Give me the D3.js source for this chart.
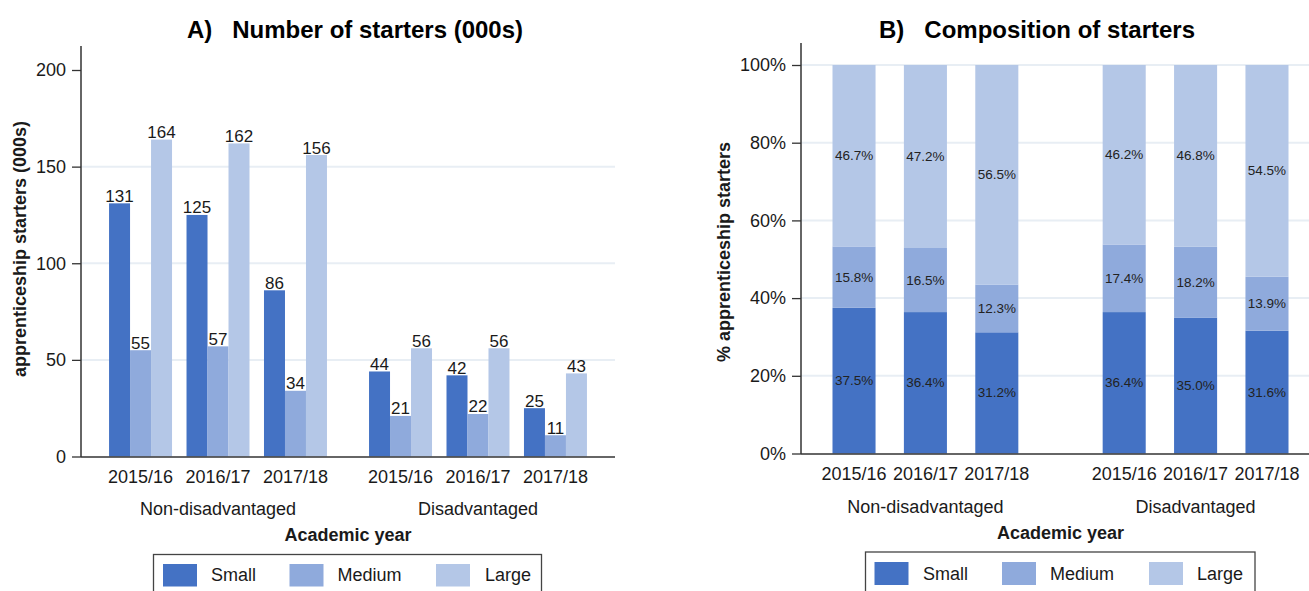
<!DOCTYPE html>
<html>
<head>
<meta charset="utf-8">
<script src="https://cdn.jsdelivr.net/npm/d3@7"></script>
<style>
  html, body { margin: 0; padding: 0; background: #fff; }
  svg { display: block; font-family: "Liberation Sans", Arial, sans-serif; }
  text { white-space: pre; }
</style>
</head>
<body>
<svg id="chart" width="1309" height="591"></svg>
<script>
// ---- data ----
const groups = ["Non-disadvantaged", "Disadvantaged"];
const years = ["2015/16", "2016/17", "2017/18"];
const sizes = ["Small", "Medium", "Large"];
const colors = ["#4472c4", "#8faadc", "#b4c7e7"];

// Panel A: number of starters (000s), by group then year
const countSmall  = [[131, 125, 86], [44, 42, 25]];
const countMedium = [[55, 57, 34],   [21, 22, 11]];
const countLarge  = [[164, 162, 156],[56, 56, 43]];
const countTicks = [0, 50, 100, 150, 200];
const countGrid = [50, 100, 150];

// Panel B: composition (%)
const pctSmall  = [[37.5, 36.4, 31.2], [36.4, 35.0, 31.6]];
const pctMedium = [[15.8, 16.5, 12.3], [17.4, 18.2, 13.9]];
const pctLarge  = [[46.7, 47.2, 56.5], [46.2, 46.8, 54.5]];
const pctTicks = [0, 20, 40, 60, 80, 100];

const svg = d3.select("#chart");
const ink = "#1a1a1a";
const gridColor = "#e8eef4";
const axisColor = "#333";
const FS = 18;

function buildRows(a, b, c) {
  const rows = [];
  groups.forEach((g, gi) => years.forEach((y, yi) => {
    rows.push({ group: g, year: y, Small: a[gi][yi], Medium: b[gi][yi], Large: c[gi][yi] });
  }));
  return rows;
}

function xAxisLabels(g, x0, x1, yearY, groupY, titleY, titleX) {
  groups.forEach(gr => {
    years.forEach(yr => {
      g.append("text").attr("x", x0(gr) + x1(yr) + x1.bandwidth() / 2).attr("y", yearY)
        .attr("text-anchor", "middle").attr("dominant-baseline", "central")
        .attr("font-size", FS).attr("fill", ink).text(yr);
    });
    g.append("text").attr("x", x0(gr) + x0.bandwidth() / 2).attr("y", groupY)
      .attr("text-anchor", "middle").attr("dominant-baseline", "central")
      .attr("font-size", FS).attr("fill", ink).text(gr);
  });
  g.append("text").attr("x", titleX).attr("y", titleY)
    .attr("text-anchor", "middle").attr("dominant-baseline", "central")
    .attr("font-size", FS).attr("font-weight", "bold").attr("fill", ink).text("Academic year");
}

function legend(g, bx, by, bw, swX, txX, swY, swH) {
  g.append("rect").attr("x", bx).attr("y", by).attr("width", bw).attr("height", 60)
    .attr("fill", "none").attr("stroke", "#444").attr("stroke-width", 1.3);
  sizes.forEach((s, i) => {
    g.append("rect").attr("x", swX[i]).attr("y", swY).attr("width", 34).attr("height", swH)
      .attr("fill", colors[i]);
    g.append("text").attr("x", txX[i]).attr("y", swY + swH / 2)
      .attr("dominant-baseline", "central").attr("font-size", FS).attr("fill", ink).text(s);
  });
}

// ================= Panel A =================
{
  const rows = buildRows(countSmall, countMedium, countLarge);
  const left = 81, right = 615, bottom = 456.5, top = 70;
  const g = svg.append("g");

  const x0 = d3.scaleBand().domain(groups).range([left, right]).paddingInner(0.104).paddingOuter(0.079);
  const x1 = d3.scaleBand().domain(years).range([0, x0.bandwidth()]).paddingInner(0.187).paddingOuter(0.097);
  const x2 = d3.scaleBand().domain(sizes).range([0, x1.bandwidth()]).padding(0);
  const y = d3.scaleLinear().domain([0, 200]).range([bottom, top]);

  g.selectAll("line.grid").data(countGrid).join("line")
    .attr("x1", left).attr("x2", right).attr("y1", d => y(d)).attr("y2", d => y(d))
    .attr("stroke", gridColor).attr("stroke-width", 2);

  const bars = [];
  rows.forEach(r => sizes.forEach((s, si) => bars.push({ r, s, si, v: r[s] })));
  g.selectAll("rect.bar").data(bars).join("rect")
    .attr("x", d => x0(d.r.group) + x1(d.r.year) + x2(d.s))
    .attr("width", x2.bandwidth())
    .attr("y", d => y(d.v)).attr("height", d => y(0) - y(d.v))
    .attr("fill", d => colors[d.si]);

  g.selectAll("text.val").data(bars).join("text")
    .attr("x", d => x0(d.r.group) + x1(d.r.year) + x2(d.s) + x2.bandwidth() / 2)
    .attr("y", d => y(d.v) - 1.5)
    .attr("text-anchor", "middle").attr("font-size", 17).attr("fill", ink)
    .text(d => d.v);

  const ya = g.append("g").attr("transform", `translate(${left},0)`)
    .call(d3.axisLeft(y).tickValues(countTicks).tickSize(9).tickPadding(6).tickSizeOuter(0));
  ya.select(".domain").remove();
  ya.selectAll(".tick line").attr("stroke", axisColor).attr("stroke-width", 1.3);
  ya.selectAll(".tick text").attr("font-size", FS).attr("fill", ink).attr("font-family", null);
  g.append("line").attr("x1", left).attr("x2", left).attr("y1", 46).attr("y2", bottom + 0.5)
    .attr("stroke", axisColor).attr("stroke-width", 1.5);
  g.append("line").attr("x1", left).attr("x2", right).attr("y1", bottom + 0.5).attr("y2", bottom + 0.5)
    .attr("stroke", axisColor).attr("stroke-width", 1.5);

  g.append("text").attr("transform", "translate(20,249) rotate(-90)")
    .attr("text-anchor", "middle").attr("dominant-baseline", "central")
    .attr("font-size", FS).attr("font-weight", "bold").attr("fill", ink)
    .text("apprenticeship starters (000s)");

  g.append("text").attr("x", 355).attr("y", 29).attr("text-anchor", "middle")
    .attr("dominant-baseline", "central").attr("font-size", 24).attr("font-weight", "bold")
    .attr("fill", "#000").text("A)   Number of starters (000s)");

  xAxisLabels(g, x0, x1, 477, 509, 535, 348);
  legend(g, 153.5, 554.5, 388, [163, 289.5, 436], [211, 337.5, 485], 564, 22.5);
}

// ================= Panel B =================
{
  const rows = buildRows(pctSmall, pctMedium, pctLarge);
  const left = 801, right = 1320, bottom = 453.5, top = 65;
  const g = svg.append("g");

  const x0 = d3.scaleBand().domain(groups).range([left, right]).paddingInner(0.207).paddingOuter(0.064);
  const x1 = d3.scaleBand().domain(years).range([0, x0.bandwidth()]).paddingInner(0.397).paddingOuter(0.199);
  const y = d3.scaleLinear().domain([0, 100]).range([bottom, top]);

  g.selectAll("line.grid").data(pctTicks.filter(d => d > 0)).join("line")
    .attr("x1", left).attr("x2", 1309).attr("y1", d => y(d)).attr("y2", d => y(d))
    .attr("stroke", gridColor).attr("stroke-width", 2);

  const series = d3.stack().keys(sizes)(rows);
  series.forEach((ser, si) => {
    g.selectAll(null).data(ser).join("rect")
      .attr("x", d => x0(d.data.group) + x1(d.data.year))
      .attr("width", x1.bandwidth())
      .attr("y", d => y(Math.min(d[1], 100)))
      .attr("height", d => y(d[0]) - y(Math.min(d[1], 100)))
      .attr("fill", colors[si]);
  });
  series.forEach((ser) => {
    g.selectAll(null).data(ser).join("text")
      .attr("x", d => x0(d.data.group) + x1(d.data.year) + x1.bandwidth() / 2)
      .attr("y", d => y((d[0] + d[1]) / 2))
      .attr("text-anchor", "middle").attr("dominant-baseline", "central")
      .attr("font-size", 13.5).attr("fill", "#222")
      .text(d => d.data[ser.key].toFixed(1) + "%");
  });

  const ya = g.append("g").attr("transform", `translate(${left},0)`)
    .call(d3.axisLeft(y).tickValues(pctTicks).tickFormat(d => d + "%").tickSize(9).tickPadding(6).tickSizeOuter(0));
  ya.select(".domain").remove();
  ya.selectAll(".tick line").attr("stroke", axisColor).attr("stroke-width", 1.3);
  ya.selectAll(".tick text").attr("font-size", FS).attr("fill", ink).attr("font-family", null);
  g.append("line").attr("x1", left).attr("x2", left).attr("y1", 43).attr("y2", bottom + 0.5)
    .attr("stroke", axisColor).attr("stroke-width", 1.5);
  g.append("line").attr("x1", left).attr("x2", 1309).attr("y1", bottom + 0.5).attr("y2", bottom + 0.5)
    .attr("stroke", axisColor).attr("stroke-width", 1.5);

  g.append("text").attr("transform", "translate(724,252) rotate(-90)")
    .attr("text-anchor", "middle").attr("dominant-baseline", "central")
    .attr("font-size", FS).attr("font-weight", "bold").attr("fill", ink)
    .text("% apprenticeship starters");

  g.append("text").attr("x", 1037).attr("y", 29).attr("text-anchor", "middle")
    .attr("dominant-baseline", "central").attr("font-size", 24).attr("font-weight", "bold")
    .attr("fill", "#000").text("B)   Composition of starters");

  xAxisLabels(g, x0, x1, 474, 507, 533, 1060.5);
  legend(g, 865.5, 552, 389.5, [874.5, 1002, 1149], [923, 1050, 1197], 562, 23);
}
</script>
</body>
</html>
